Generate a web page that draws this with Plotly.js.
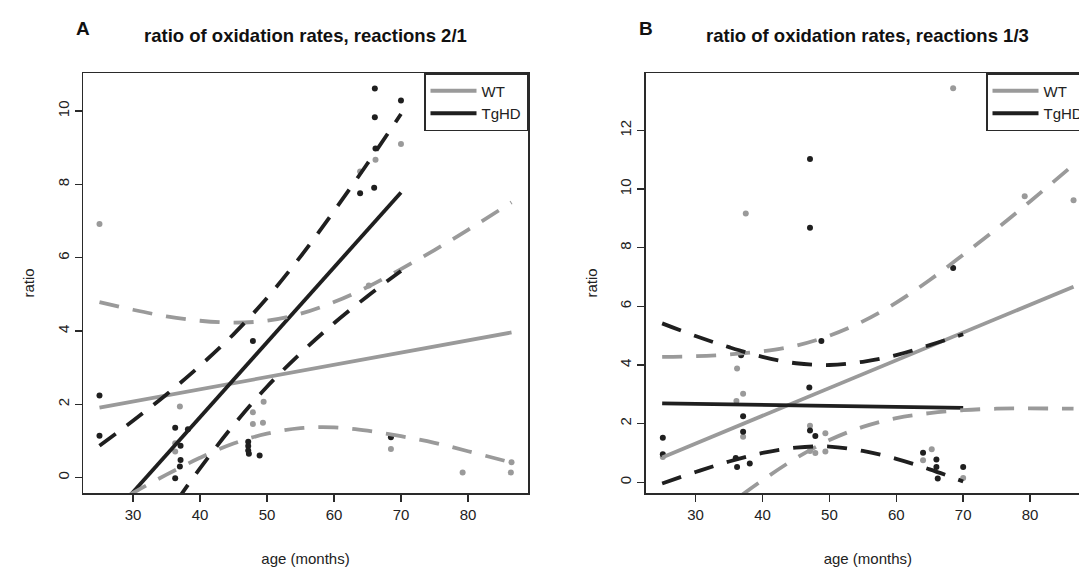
<!DOCTYPE html>
<html>
<head>
<meta charset="utf-8">
<script src="https://cdn.plot.ly/plotly-3.0.1.min.js"></script>
<style>
html, body { margin: 0; padding: 0; overflow: hidden; background: #ffffff; }
#chart { width: 1100px; height: 569px; }
</style>
</head>
<body>
<div id="chart"></div>
<script>
// ---------- Panel A: ratio of oxidation rates, reactions 2/1 ----------
const ageA_WT   = [25, 37, 36.3, 36.3, 47.9, 47.9, 49.4, 49.5, 63.9, 65.2, 66.2, 70, 68.5, 79.2, 86.4, 86.5];
const ratioA_WT = [6.92, 1.94, 0.94, 0.71, 1.78, 1.46, 1.50, 2.07, 8.35, 5.24, 8.67, 9.10, 0.78, 0.14, 0.14, 0.42];

const ageA_Tg   = [25, 25, 36.3, 38.2, 37.1, 37.1, 37.0, 36.3, 47.9, 47.2, 47.2, 47.2, 47.3, 48.9, 66.1, 70, 66.1, 66.2, 63.9, 66.0, 68.5];
const ratioA_Tg = [2.24, 1.14, 1.36, 1.32, 0.87, 0.48, 0.30, -0.02, 3.73, 0.98, 0.86, 0.74, 0.65, 0.60, 10.62, 10.29, 9.83, 8.98, 7.76, 7.91, 1.10];

// fitted lines (end points)
const fitA_WT_x = [25, 86.5];
const fitA_WT_y = [1.91, 3.96];
const fitA_Tg_x = [25, 70];
const fitA_Tg_y = [-1.42, 7.78];

// confidence bands
const bandA_WT_x     = [25, 30, 35, 40, 45, 50, 55, 60, 65, 70, 75, 80, 86.5];
const bandA_WT_upper = [4.79, 4.58, 4.40, 4.28, 4.23, 4.28, 4.47, 4.79, 5.20, 5.69, 6.21, 6.76, 7.51];
const bandA_WT_lower = [-0.97, -0.42, 0.08, 0.54, 0.93, 1.20, 1.35, 1.37, 1.28, 1.13, 0.95, 0.72, 0.41];

const bandA_Tg_x     = [25, 30, 35, 40, 45, 50, 55, 60, 65, 70];
const bandA_Tg_upper = [0.87, 1.55, 2.27, 3.05, 3.91, 4.90, 6.03, 7.27, 8.57, 9.92];
const bandA_Tg_lower = [-3.71, -2.35, -1.03, 0.25, 1.43, 2.48, 3.39, 4.21, 4.95, 5.64];

// ---------- Panel B: ratio of oxidation rates, reactions 1/3 ----------
const ageB_WT   = [25.1, 36.2, 37.1, 36.1, 37.1, 37.5, 47.1, 49.4, 47.1, 47.9, 49.4, 65.3, 64.0, 70, 68.5, 79.2, 86.5];
const ratioB_WT = [0.86, 3.88, 3.02, 2.77, 1.55, 9.17, 1.93, 1.67, 1.07, 1.00, 1.05, 1.13, 0.75, 0.15, 13.44, 9.76, 9.62];

const ageB_Tg   = [25.1, 25.1, 36.8, 37.1, 37.1, 36.0, 36.2, 38.1, 47.1, 47.1, 47.0, 48.8, 47.1, 47.9, 64.0, 66.0, 66.0, 66.2, 70, 68.5];
const ratioB_Tg = [1.52, 0.96, 4.33, 2.25, 1.72, 0.83, 0.52, 0.64, 11.03, 8.68, 3.23, 4.82, 1.77, 1.58, 1.01, 0.78, 0.52, 0.13, 0.52, 7.31];

const fitB_WT_x = [25, 86.5];
const fitB_WT_y = [0.85, 6.67];
const fitB_Tg_x = [25, 70];
const fitB_Tg_y = [2.69, 2.54];

const bandB_WT_x     = [25, 30, 35, 40, 45, 50, 55, 60, 65, 70, 75, 80, 86.5];
const bandB_WT_upper = [4.28, 4.30, 4.36, 4.47, 4.66, 5.00, 5.49, 6.13, 6.90, 7.76, 8.65, 9.58, 10.83];
const bandB_WT_lower = [-2.58, -1.66, -0.76, 0.07, 0.82, 1.44, 1.89, 2.19, 2.36, 2.46, 2.51, 2.52, 2.51];

const bandB_Tg_x     = [25, 30, 35, 40, 45, 50, 55, 60, 65, 70];
const bandB_Tg_upper = [5.42, 4.99, 4.61, 4.28, 4.06, 4.00, 4.11, 4.34, 4.68, 5.05];
const bandB_Tg_lower = [-0.04, 0.35, 0.71, 1.00, 1.18, 1.22, 1.07, 0.80, 0.44, 0.03];

const groupNames = ['WT', 'TgHD'];
const xTicks = [30, 40, 50, 60, 70, 80];
const yTicksA = [0, 2, 4, 6, 8, 10];
const yTicksB = [0, 2, 4, 6, 8, 10, 12];

// ---------- styling ----------
const GRAY = '#9a9a9a';
const DARK = '#1f1f1f';
const AXC = '#2a2a2a';
const FONT = 'Liberation Sans, Arial, Helvetica, sans-serif';
const DASH = '20px,14px';

function pts(x, y, color, xa, ya) {
  return {x: x, y: y, type: 'scatter', mode: 'markers', xaxis: xa, yaxis: ya,
    marker: {color: color, size: 6}, showlegend: false, hoverinfo: 'x+y'};
}
function line(x, y, color, xa, ya, dash, name, legend) {
  return {x: x, y: y, type: 'scatter', mode: 'lines', xaxis: xa, yaxis: ya,
    line: {color: color, width: 3.8, dash: dash || 'solid', shape: dash ? 'spline' : 'linear'},
    name: name || '', showlegend: !!name, legend: legend || 'legend', hoverinfo: 'x+y'};
}

const traces = [
  // panel A
  pts(ageA_WT, ratioA_WT, GRAY, 'x', 'y'),
  pts(ageA_Tg, ratioA_Tg, DARK, 'x', 'y'),
  line(fitA_WT_x, fitA_WT_y, GRAY, 'x', 'y', null, groupNames[0], 'legend'),
  line(fitA_Tg_x, fitA_Tg_y, DARK, 'x', 'y', null, groupNames[1], 'legend'),
  line(bandA_WT_x, bandA_WT_upper, GRAY, 'x', 'y', DASH),
  line(bandA_WT_x, bandA_WT_lower, GRAY, 'x', 'y', DASH),
  line(bandA_Tg_x, bandA_Tg_upper, DARK, 'x', 'y', DASH),
  line(bandA_Tg_x, bandA_Tg_lower, DARK, 'x', 'y', DASH),
  // panel B
  pts(ageB_WT, ratioB_WT, GRAY, 'x2', 'y2'),
  pts(ageB_Tg, ratioB_Tg, DARK, 'x2', 'y2'),
  line(fitB_WT_x, fitB_WT_y, GRAY, 'x2', 'y2', null, groupNames[0], 'legend2'),
  line(fitB_Tg_x, fitB_Tg_y, DARK, 'x2', 'y2', null, groupNames[1], 'legend2'),
  line(bandB_WT_x, bandB_WT_upper, GRAY, 'x2', 'y2', DASH),
  line(bandB_WT_x, bandB_WT_lower, GRAY, 'x2', 'y2', DASH),
  line(bandB_Tg_x, bandB_Tg_upper, DARK, 'x2', 'y2', DASH),
  line(bandB_Tg_x, bandB_Tg_lower, DARK, 'x2', 'y2', DASH)
];

const axisCommon = {
  showline: true, mirror: true, linecolor: AXC, linewidth: 1.5,
  ticks: 'outside', ticklen: 7, tickwidth: 1.5, tickcolor: AXC,
  showgrid: false, zeroline: false, fixedrange: true,
  tickfont: {family: FONT, size: 15, color: '#222'}
};

const W = 1100, H = 569;
const L = 83, R = 10, T = 73, B = 76;
const plotW = W - L - R;

const legendCommon = {
  y: 1, yanchor: 'top', xanchor: 'right',
  bgcolor: '#ffffff', bordercolor: AXC, borderwidth: 1.5,
  font: {family: FONT, size: 15, color: '#222'}, itemwidth: 46, tracegroupgap: 0
};

const layout = {
  width: W, height: H,
  margin: {l: L, r: R, t: T, b: B},
  paper_bgcolor: '#ffffff', plot_bgcolor: '#ffffff',
  font: {family: FONT, size: 15, color: '#222'},
  xaxis: Object.assign({}, axisCommon, {
    domain: [0, (528 - L) / plotW], range: [22.54, 88.96], anchor: 'y',
    tickvals: xTicks, ticktext: xTicks.map(String),
    title: {text: 'age (months)', font: {family: FONT, size: 15, color: '#222'}, standoff: 32}
  }),
  yaxis: Object.assign({}, axisCommon, {
    domain: [0, 1], range: [-0.42, 11.04], anchor: 'x',
    tickvals: yTicksA, ticktext: yTicksA.map(String), tickangle: -90,
    title: {text: 'ratio', font: {family: FONT, size: 15, color: '#222'}, standoff: 16}
  }),
  xaxis2: Object.assign({}, axisCommon, {
    domain: [(645.7 - L) / plotW, 1], range: [22.54, 88.96], anchor: 'y2',
    tickvals: xTicks, ticktext: xTicks.map(String),
    title: {text: 'age (months)', font: {family: FONT, size: 15, color: '#222'}, standoff: 32}
  }),
  yaxis2: Object.assign({}, axisCommon, {
    domain: [0, 1], range: [-0.365, 13.96], anchor: 'x2',
    tickvals: yTicksB, ticktext: yTicksB.map(String), tickangle: -90,
    title: {text: 'ratio', font: {family: FONT, size: 15, color: '#222'}, standoff: 16}
  }),
  legend: Object.assign({}, legendCommon, {x: (528 - L) / plotW}),
  legend2: Object.assign({}, legendCommon, {x: 1}),
  annotations: [
    {xref: 'x domain', yref: 'y domain', x: 0.5, y: 1 + (T - 35) / 420, xanchor: 'center', yanchor: 'middle',
     text: '<b>ratio of oxidation rates, reactions 2/1</b>', showarrow: false,
     font: {family: FONT, size: 18.5, color: '#111'}},
    {xref: 'x domain', yref: 'y domain', x: 0.0, y: 1 + (T - 29) / 420, xanchor: 'center', yanchor: 'middle',
     text: '<b>A</b>', showarrow: false, font: {family: FONT, size: 19, color: '#111'}},
    {xref: 'x2 domain', yref: 'y2 domain', x: 0.5, y: 1 + (T - 35) / 420, xanchor: 'center', yanchor: 'middle',
     text: '<b>ratio of oxidation rates, reactions 1/3</b>', showarrow: false,
     font: {family: FONT, size: 18.5, color: '#111'}},
    {xref: 'x2 domain', yref: 'y2 domain', x: 0.0, y: 1 + (T - 29) / 420, xanchor: 'center', yanchor: 'middle',
     text: '<b>B</b>', showarrow: false, font: {family: FONT, size: 19, color: '#111'}}
  ]
};

Plotly.newPlot('chart', traces, layout, {displayModeBar: false, staticPlot: true});
</script>
</body>
</html>
